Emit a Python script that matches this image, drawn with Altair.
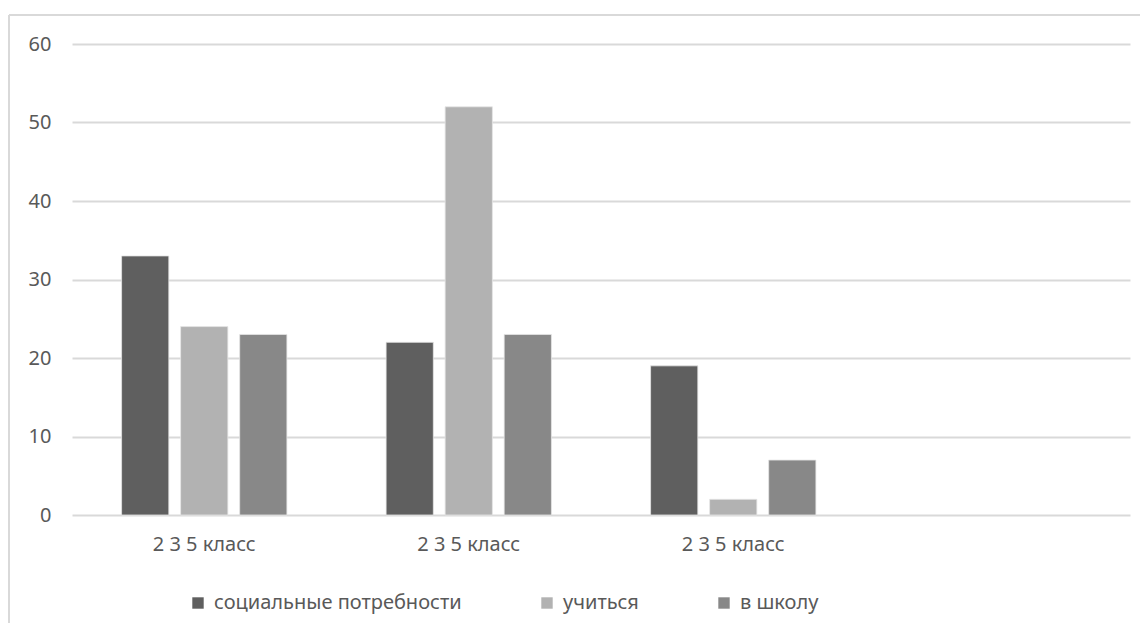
import altair as alt
import pandas as pd

group_ids = ["g1", "g2", "g3", "g4"]
group_labels = ["2 3 5 класс", "2 3 5 класс", "2 3 5 класс", ""]
series = ["социальные потребности", "учиться", "в школу"]
social = [33, 22, 19]
learn = [24, 52, 2]
school = [23, 23, 7]
colors = ["#5f5f5f", "#b2b2b2", "#888888"]
y_ticks = [0, 10, 20, 30, 40, 50, 60]

rows = []
for vals, s in zip([social, learn, school], series):
    for g, v in zip(group_ids[:3], vals):
        rows.append({"group": g, "series": s, "value": v})
df = pd.DataFrame(rows)

label_expr = " : ".join(
    f"datum.value == '{g}' ? '{l}'" for g, l in zip(group_ids, group_labels)
) + " : ''"

FONT = "Noto Sans"
TXT = "#595959"
W, H = 1058, 471

bars = alt.Chart(df).mark_bar(stroke="#e6e6e6", strokeWidth=0.8).encode(
    x=alt.X("group:N", scale=alt.Scale(domain=group_ids, paddingInner=0.375, paddingOuter=0.1875),
            axis=alt.Axis(title=None, labelExpr=label_expr, labelAngle=0, domain=False, ticks=False,
                          labelPadding=19, labelFontSize=20, labelColor=TXT, labelFont=FONT, grid=False)),
    xOffset=alt.XOffset("series:N", scale=alt.Scale(domain=series, paddingInner=0.2, paddingOuter=0)),
    y=alt.Y("value:Q", scale=alt.Scale(domain=[0, 60], nice=False),
            axis=alt.Axis(title=None, values=y_ticks, domain=False, ticks=False, labelPadding=21,
                          labelFontSize=20, labelColor=TXT, labelFont=FONT,
                          gridColor="#d9d9d9", gridWidth=2)),
    color=alt.Color("series:N", scale=alt.Scale(domain=series, range=colors),
                    legend=alt.Legend(title=None, orient="none", legendX=116, legendY=549,
                                      direction="horizontal", symbolType="square", symbolSize=130,
                                      symbolStrokeWidth=0, labelFontSize=20, labelColor=TXT,
                                      labelFont=FONT, labelOffset=6, columnPadding=75,
                                      labelLimit=400)),
)

border_top = alt.Chart(pd.DataFrame({"k": [0]})).mark_rule(color="#d9d9d9", strokeWidth=2).encode(
    x=alt.value(-63), x2=alt.value(W + 10), y=alt.value(-29)
)
border_left = alt.Chart(pd.DataFrame({"k": [0]})).mark_rule(color="#d9d9d9", strokeWidth=2).encode(
    x=alt.value(-63), y=alt.value(-29), y2=alt.value(H + 110)
)

chart = alt.layer(bars, border_top, border_left).properties(
    width=W, height=H,
    background="white",
    autosize=alt.AutoSizeParams(type="none"),
    padding={"left": 64, "top": 36, "right": 10, "bottom": 108},
).configure_view(stroke=None, strokeWidth=0)

chart.save("out.html", embed_options={"renderer": "svg", "actions": False})
